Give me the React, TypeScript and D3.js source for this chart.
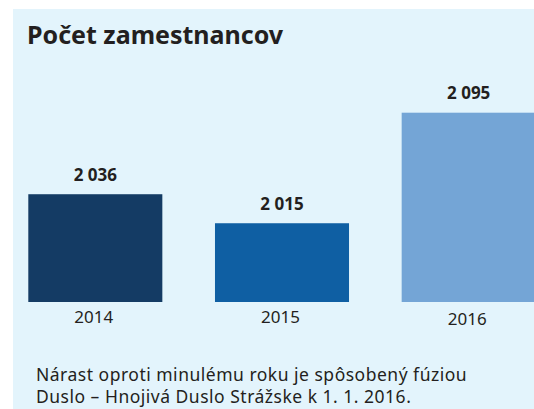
import React from "react";
import * as d3 from "d3";

const years = ["2014", "2015", "2016"];
const employees = [2036, 2015, 2095];
const barColors = ["#143B64", "#0F5FA3", "#74A5D6"];
const title = "Počet zamestnancov";
const noteLines = [
  "Nárast oproti minulému roku je spôsobený fúziou",
  "Duslo – Hnojivá Duslo Strážske k 1. 1. 2016.",
];

const W = 534;
const H = 409;
const FONT = "'Noto Sans', sans-serif";

export default function App() {
  const x = d3
    .scaleBand<string>()
    .domain(years)
    .range([28.3, 535.7])
    .paddingInner(0.282)
    .paddingOuter(0);
  const y = d3.scaleLinear().domain([1958, 2095]).range([302, 112.7]);
  const fmt = d3.formatLocale({
    decimal: ",",
    thousands: " ",
    grouping: [3],
    currency: ["", " €"],
  }).format(",d");

  return (
    <svg
      width={W}
      height={H}
      style={{ position: "absolute", left: 0, top: 0, display: "block" }}
      fontFamily={FONT}
    >
      <rect x={0} y={0} width={W} height={H} fill="#ffffff" />
      <rect x={13} y={9} width={W - 13} height={H - 9} fill="#E3F4FC" />
      <text x={27} y={44.3} fontSize={25} fontWeight={700} fill="#231F20">
        {title}
      </text>
      {years.map((yr, i) => {
        const bx = x(yr)!;
        const bw = x.bandwidth();
        const top = y(employees[i]);
        return (
          <g key={yr}>
            <rect
              x={bx}
              y={top}
              width={bw}
              height={y(1958) - top}
              fill={barColors[i]}
            />
            <text
              x={bx + bw / 2}
              y={top - 13.5}
              textAnchor="middle"
              fontSize={17}
              fontWeight={700}
              fill="#231F20"
            >
              {fmt(employees[i])}
            </text>
            <text
              x={bx + bw / 2 - 1.5}
              y={i === 2 ? 324.5 : 322.5}
              textAnchor="middle"
              fontSize={17}
              fill="#231F20"
            >
              {yr}
            </text>
          </g>
        );
      })}
      {noteLines.map((line, i) => (
        <text
          key={i}
          x={36}
          y={381 + i * 22.3}
          fontSize={17.5}
          letterSpacing={0.5}
          fill="#231F20"
        >
          {line}
        </text>
      ))}
    </svg>
  );
}
